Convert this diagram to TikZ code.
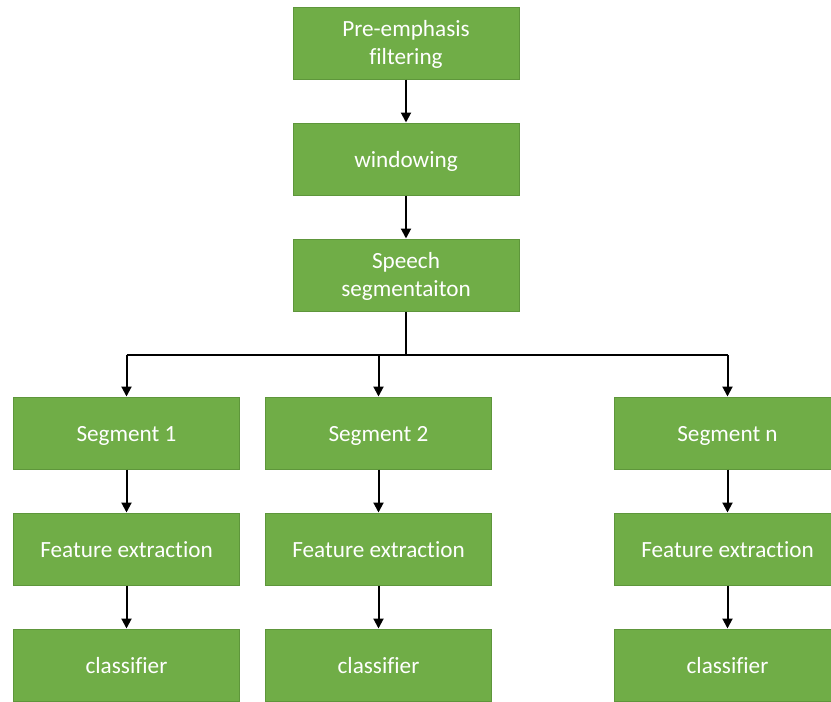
\documentclass[tikz,border=0pt]{standalone}
\usepackage{fontspec}
\setmainfont[Ligatures={NoCommon}]{Carlito}
\usetikzlibrary{arrows.meta}
\definecolor{boxfill}{HTML}{70AD47}
\definecolor{boxline}{HTML}{5E963B}
\begin{document}
\begin{tikzpicture}[x=1pt,y=-1pt,
  stage/.style={draw=boxline,line width=1pt,fill=boxfill,text=white,
    minimum width=226pt,minimum height=72pt,inner sep=0pt,align=center,
    text height=16pt,text depth=0pt,
    font=\fontsize{23.2}{28}\selectfont},
  twoline/.style={text height=42pt},
  flow/.style={line width=2pt,-{Triangle[width=10pt,length=10pt]}},
  trunk/.style={line width=2pt}]
\useasboundingbox (0,0) rectangle (831,702);
% main chain
\node[stage,twoline] (pre) at (406,43) {Pre-emphasis\\filtering};
\node[stage] (win) at (406,159) {windowing};
\node[stage,twoline] (seg) at (406,275) {Speech\\segmentaiton};
% per-segment columns
\node[stage] (s1) at (126.5,433) {Segment 1};
\node[stage] (s2) at (378.5,433) {Segment 2};
\node[stage] (sn) at (727.5,433) {Segment n};
\node[stage] (f1) at (126.5,549) {Feature extraction};
\node[stage] (f2) at (378.5,549) {Feature extraction};
\node[stage] (fn) at (727.5,549) {Feature extraction};
\node[stage] (c1) at (126.5,665) {classifier};
\node[stage] (c2) at (378.5,665) {classifier};
\node[stage] (cn) at (727.5,665) {classifier};
% connectors
\draw[flow] (pre) -- (win);
\draw[flow] (win) -- (seg);
\coordinate (hub) at (406,355);
\draw[trunk] (seg.south) -- (hub);
\draw[trunk] (s1.north |- hub) -- (sn.north |- hub);
\draw[flow] (s1.north |- hub) -- (s1.north);
\draw[flow] (s2.north |- hub) -- (s2.north);
\draw[flow] (sn.north |- hub) -- (sn.north);
\draw[flow] (s1) -- (f1);
\draw[flow] (s2) -- (f2);
\draw[flow] (sn) -- (fn);
\draw[flow] (f1) -- (c1);
\draw[flow] (f2) -- (c2);
\draw[flow] (fn) -- (cn);
\end{tikzpicture}
\end{document}
